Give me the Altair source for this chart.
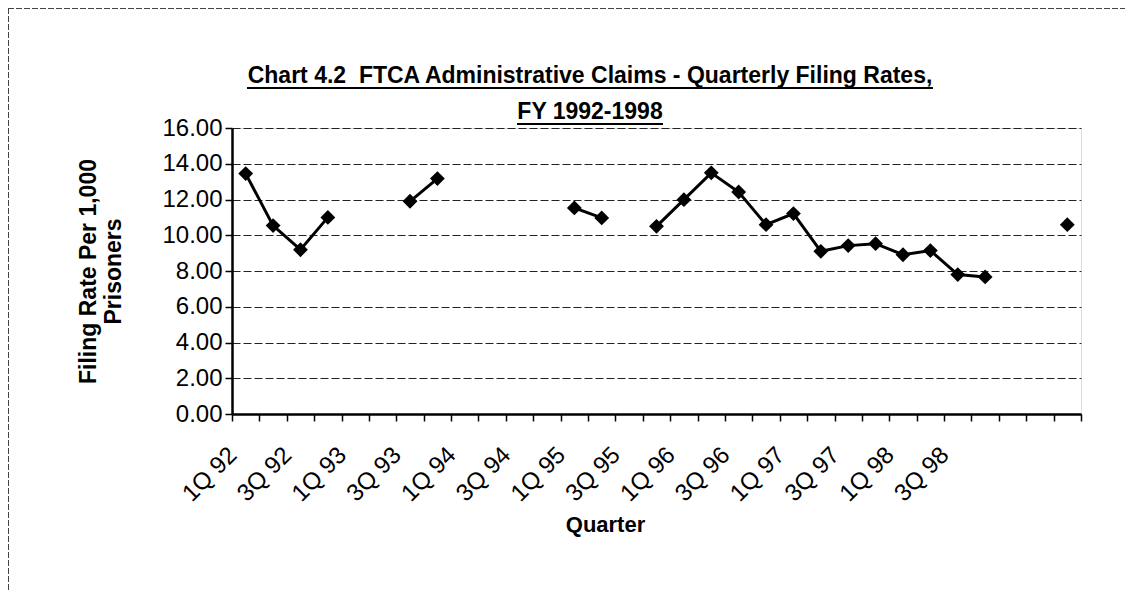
import altair as alt
import pandas as pd

quarters = ["1Q 92", "2Q 92", "3Q 92", "4Q 92", "1Q 93", "2Q 93", "3Q 93", "4Q 93",
            "1Q 94", "2Q 94", "3Q 94", "4Q 94", "1Q 95", "2Q 95", "3Q 95", "4Q 95",
            "1Q 96", "2Q 96", "3Q 96", "4Q 96", "1Q 97", "2Q 97", "3Q 97", "4Q 97",
            "1Q 98", "2Q 98", "3Q 98", "4Q 98", " ", "  ", "   "]
rates = [13.45, 10.54, 9.19, 11.00, None, None, 11.90, 13.17,
         None, None, None, None, 11.53, 10.97, None, 10.50,
         11.99, 13.49, 12.42, 10.59, 11.21, 9.10, 9.42, 9.53,
         8.91, 9.14, 7.80, 7.67, None, None, 10.59]
y_ticks = [0, 2, 4, 6, 8, 10, 12, 14, 16]

title_line1 = "Chart 4.2\u00a0 FTCA Administrative Claims - Quarterly Filing Rates,"
title_line2 = "FY 1992-1998"
y_title = ["Filing Rate Per 1,000", "Prisoners"]
x_title = "Quarter"

# contiguous runs of non-missing values become separate line segments
seg, s, prev_null = [], 0, True
for v in rates:
    if v is None:
        prev_null = True
        seg.append(None)
    else:
        if prev_null:
            s += 1
        prev_null = False
        seg.append(s)

df = pd.DataFrame({"quarter": quarters, "rate": rates, "seg": seg})
valid = df.dropna(subset=["rate"])

FONT = "Liberation Sans"
W, H = 849, 286

x_enc = alt.X(
    "quarter:N", sort=None,
    scale=alt.Scale(type="band", domain=quarters, paddingInner=0, paddingOuter=0),
    axis=alt.Axis(
        title=x_title, labelAngle=-45, labelAlign="right", labelBaseline="middle",
        labelExpr="test(/^[13]Q/, datum.value) ? datum.value : ''",
        labelFont=FONT, labelFontSize=24, labelColor="black", labelOverlap=False,
        labelPadding=30, labelOffset=-13,
        tickBand="extent", tickSize=7, tickColor="black", tickWidth=1.5,
        domainColor="black", domainWidth=2.5, grid=False,
        titleFont=FONT, titleFontSize=22, titleFontWeight="bold", titleColor="black",
        titleX=373, titleY=100,
    ),
)
y_enc = alt.Y(
    "rate:Q",
    scale=alt.Scale(domain=[0, 16], nice=False),
    axis=alt.Axis(
        values=y_ticks, format=".2f", title=y_title,
        labelFont=FONT, labelFontSize=24, labelColor="black", labelPadding=3,
        tickSize=7, tickColor="black", tickWidth=1.5,
        domainColor="black", domainWidth=2.5,
        grid=True, gridColor="#222222", gridDash=[8, 3], gridWidth=1.2,
        titleFont=FONT, titleFontSize=23, titleFontWeight="bold", titleColor="black",
        titleLineHeight=25, titlePadding=36,
    ),
)

line = alt.Chart(valid).mark_line(color="black", strokeWidth=3).encode(
    x=x_enc, y=y_enc, detail="seg:N"
)
pts = alt.Chart(valid).mark_point(shape="diamond", filled=True, color="black",
                                  size=220, opacity=1).encode(x=x_enc, y=y_enc)

one = pd.DataFrame({"a": [0]})
t1 = alt.Chart(one).mark_text(font=FONT, fontSize=23, fontWeight="bold", color="black",
                              align="center", baseline="alphabetic").encode(
    text=alt.value(title_line1), x=alt.value(358), y=alt.value(-45))
t2 = alt.Chart(one).mark_text(font=FONT, fontSize=23, fontWeight="bold", color="black",
                              align="center", baseline="alphabetic").encode(
    text=alt.value(title_line2), x=alt.value(358), y=alt.value(-9))
ul1 = alt.Chart(one).mark_rule(color="black", strokeWidth=2).encode(
    x=alt.value(15), x2=alt.value(701), y=alt.value(-40))
ul2 = alt.Chart(one).mark_rule(color="black", strokeWidth=2).encode(
    x=alt.value(285), x2=alt.value(431), y=alt.value(-4))
border_top = alt.Chart(one).mark_rule(color="#444444", strokeWidth=1, strokeDash=[6, 2]).encode(
    x=alt.value(-224), x2=alt.value(893), y=alt.value(-119.5))
border_left = alt.Chart(one).mark_rule(color="#444444", strokeWidth=1, strokeDash=[6, 2]).encode(
    x=alt.value(-223.5), y=alt.value(-120), y2=alt.value(464))

chart = alt.layer(line, pts, t1, t2, ul1, ul2, border_top, border_left).properties(
    width=W, height=H,
    padding={"left": 224, "top": 120, "right": 44, "bottom": 178},
    autosize=alt.AutoSizeParams(type="none"),
).configure_view(stroke="black", strokeWidth=2).configure(background="white")

chart.save("out.html", embed_options={"renderer": "svg", "actions": False})
